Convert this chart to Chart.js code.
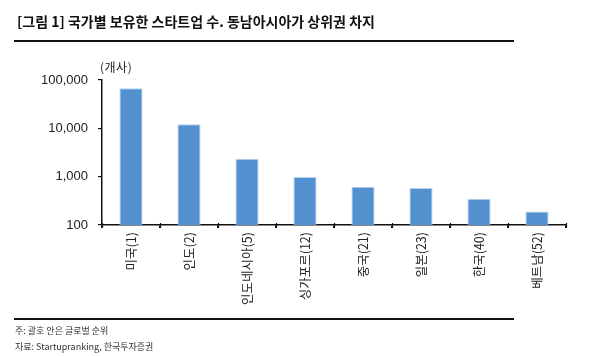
<!DOCTYPE html>
<html><head><meta charset="utf-8">
<script src="https://cdn.jsdelivr.net/npm/chart.js@4"></script>
<style>
html,body{margin:0;padding:0;background:#fff;}
#wrap{position:relative;width:600px;height:356px;overflow:hidden;font-family:"Liberation Sans","Noto Sans CJK KR",sans-serif;}
#title{position:absolute;left:17px;top:11px;font-size:14px;font-weight:bold;color:#111;font-family:"Noto Sans CJK KR",sans-serif;white-space:nowrap;}
.rule{position:absolute;left:14px;width:500px;background:#111;}
#unit{position:absolute;left:100px;top:58px;font-size:12px;color:#222;font-family:"Noto Sans CJK KR",sans-serif;letter-spacing:0.5px;}
.note{position:absolute;left:15px;font-size:9px;color:#333;font-family:"Noto Sans CJK KR",sans-serif;white-space:nowrap;}
#cv{position:absolute;left:0;top:0;}
</style></head><body>
<div id="wrap">
<canvas id="cv" width="600" height="356"></canvas>
<div id="title">[그림 1] 국가별 보유한 스타트업 수. 동남아시아가 상위권 차지</div>
<div class="rule" style="top:40px;height:2px;"></div>
<div id="unit">(개사)</div>
<div class="rule" style="top:318px;height:2px;"></div>
<div class="note" style="top:324px;">주: 괄호 안은 글로벌 순위</div>
<div class="note" style="top:340px;">자료: Startupranking, 한국투자증권</div>
</div>
<script>
const categories = ["미국(1)","인도(2)","인도네시아(5)","싱가포르(12)","중국(21)","일본(23)","한국(40)","베트남(52)"];
const startups = [67300, 12100, 2350, 980, 620, 580, 350, 190];
const yTicks = [100, 1000, 10000, 100000];

const boundaryTicks = {
  id:'boundaryTicks',
  afterDraw(chart){
    const x = chart.scales.x, ctx = chart.ctx;
    const n = categories.length;
    const y0 = chart.chartArea.bottom;
    ctx.save();
    ctx.strokeStyle = '#111'; ctx.lineWidth = 1.2;
    for (let i=0;i<=n;i++){
      const px = Math.round((x.getPixelForValue(i-0.5)))+0.5;
      ctx.beginPath(); ctx.moveTo(px, y0-2); ctx.lineTo(px, y0+3); ctx.stroke();
    }
    ctx.restore();
  }
};

new Chart(document.getElementById('cv'), {
  type:'bar',
  data:{labels:categories, datasets:[{data:startups, backgroundColor:'#5290d0', borderColor:'#b9d4ef', borderWidth:1, barPercentage:0.8, categoryPercentage:0.5}]},
  options:{
    responsive:false, animation:false,
    layout:{padding:{left:0,right:34,top:80,bottom:0}},
    plugins:{legend:{display:false}, tooltip:{enabled:false}},
    scales:{
      x:{
        grid:{display:true, drawOnChartArea:false, drawTicks:true, tickLength:3, color:'#111', lineWidth:1.2},
        border:{display:true, color:'#111', width:1.5},
        ticks:{minRotation:90, maxRotation:90, padding:4, color:'#222', font:{family:'"Noto Sans CJK KR","Liberation Sans",sans-serif', size:12.5}},
        afterFit(s){ s.height = 131; }
      },
      y:{
        type:'logarithmic', min:100, max:100000,
        grid:{display:true, drawOnChartArea:false, drawTicks:true, tickLength:4, color:'#111', lineWidth:1.2},
        border:{display:true, color:'#111', width:1.5},
        afterBuildTicks(s){ s.ticks = yTicks.map(v=>({value:v})); },
        ticks:{padding:10, color:'#222', font:{family:'"Liberation Sans",Arial,sans-serif', size:13},
          callback:(v)=>Number(v).toLocaleString('en-US')},
        afterFit(s){ s.width = 102; }
      }
    }
  },
  plugins:[boundaryTicks]
});
</script>
</body></html>
